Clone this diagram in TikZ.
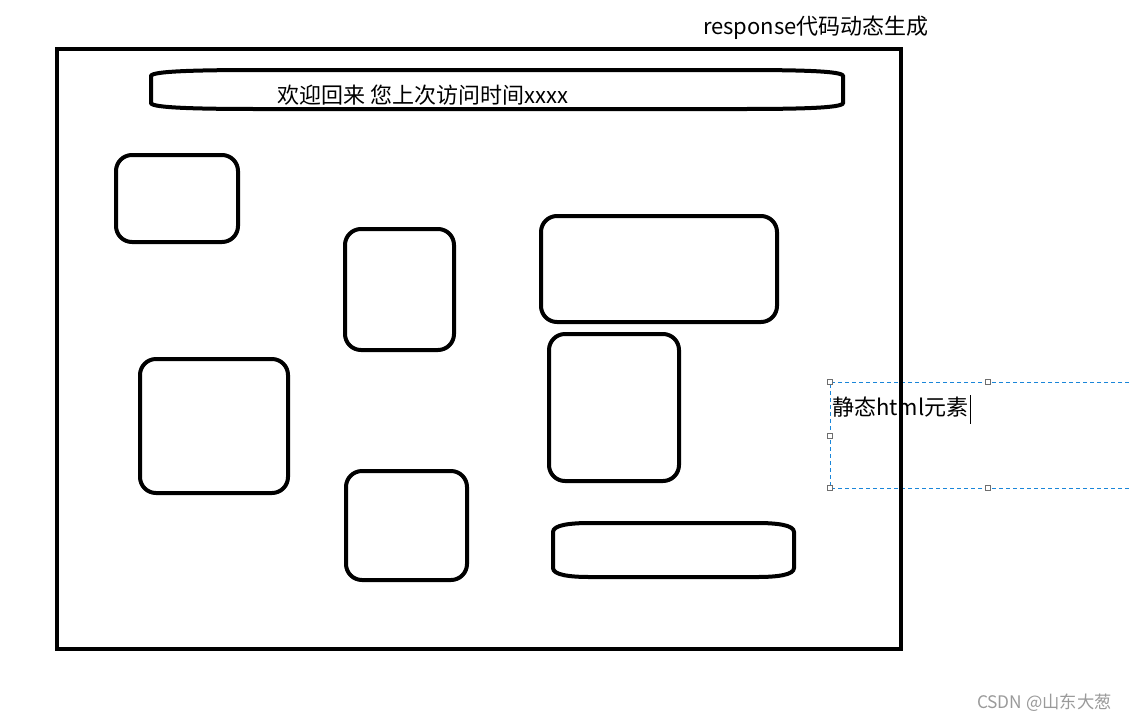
\documentclass[tikz,border=0pt]{standalone}
\usepackage{fontspec}
\setmainfont{Noto Sans CJK SC}
\usetikzlibrary{positioning}
\definecolor{SelBlue}{HTML}{1A86D9}
\definecolor{HandleGray}{HTML}{6E6E6E}
\definecolor{MarkGray}{HTML}{9A9A9A}
\tikzset{
  pagebox/.style={rectangle, draw, line width=4.5pt, inner sep=0pt},
  elembox/.style={rectangle, rounded corners=16pt, draw, line width=4pt, inner sep=0pt},
  capsule/.style={draw, line width=4pt},
  selbox/.style={draw=SelBlue, line width=1pt, dash pattern=on 4pt off 3pt},
  handle/.style={rectangle, draw=HandleGray, fill=white, line width=0.8pt, minimum size=5pt, inner sep=0pt},
  bigtext/.style={font=\fontsize{22}{26}\selectfont, inner sep=0pt},
  marktext/.style={font=\fontsize{17.3}{20}\selectfont, text=MarkGray, inner sep=0pt},
}

\begin{document}
\begin{tikzpicture}[x=1pt, y=-1pt]
    \useasboundingbox (0,0) rectangle (1129,721);
    % selection box of the text field
    \coordinate (sel tl) at (830,382);
    \coordinate (sel bl) at (830,488);
    \coordinate (sel tr) at (1129,382);
    \coordinate (sel br) at (1129,488);
    \draw[selbox] (sel tr) -- (sel tl) -- (sel bl) -- (sel br);
    \node[handle] (h1) at (sel tl) {};
    \node[handle] (h2) at (988,382) {};
    \node[handle] (h3) at (830,436) {};
    \node[handle] (h4) at (sel bl) {};
    \node[handle] (h5) at (988,488) {};
    \node[bigtext, anchor=west] (static) at (832,407) {静态html元素};
    \coordinate (cur top) at (970,395);
    \coordinate (cur bot) at (970,424);
    \draw[line width=0.8pt] (cur top) -- (cur bot);
    % page and its elements
    \node[pagebox, minimum width=844pt, minimum height=600pt] (page) at (479,349) {};
    \node[bigtext] (title) at (816,28) {response代码动态生成};
    \draw[capsule] (151,76) .. controls (151,71) and (200,70) .. (260,70) -- (740,70)
        .. controls (800,70) and (843,71) .. (843,76) -- (843,103)
        .. controls (843,108) and (800,109) .. (740,109) -- (260,109)
        .. controls (200,109) and (151,108) .. (151,103) -- cycle;
    \node[bigtext] (welcome) at (423,95) {欢迎回来 您上次访问时间xxxx};
    \node[elembox, minimum width=122pt, minimum height=87pt] (b1) at (177,198.5) {};
    \node[elembox, minimum width=109pt, minimum height=121pt] (b2) at (399.5,289.5) {};
    \node[elembox, minimum width=236pt, minimum height=106pt] (b3) at (659,269) {};
    \node[elembox, minimum width=148pt, minimum height=134pt] (b4) at (214,426) {};
    \node[elembox, minimum width=130pt, minimum height=147pt] (b5) at (614,407.5) {};
    \node[elembox, minimum width=121pt, minimum height=109pt] (b6) at (406.5,525.5) {};
    \draw[capsule] (553,532) .. controls (553,525) and (570,523) .. (590,523) -- (757,523)
        .. controls (777,523) and (794,525) .. (794,532) -- (794,568)
        .. controls (794,575) and (777,577) .. (757,577) -- (590,577)
        .. controls (570,577) and (553,575) .. (553,568) -- cycle;
    \node[marktext, anchor=east] (mark) at (1112,703) {CSDN @山东大葱};
\end{tikzpicture}
\end{document}
